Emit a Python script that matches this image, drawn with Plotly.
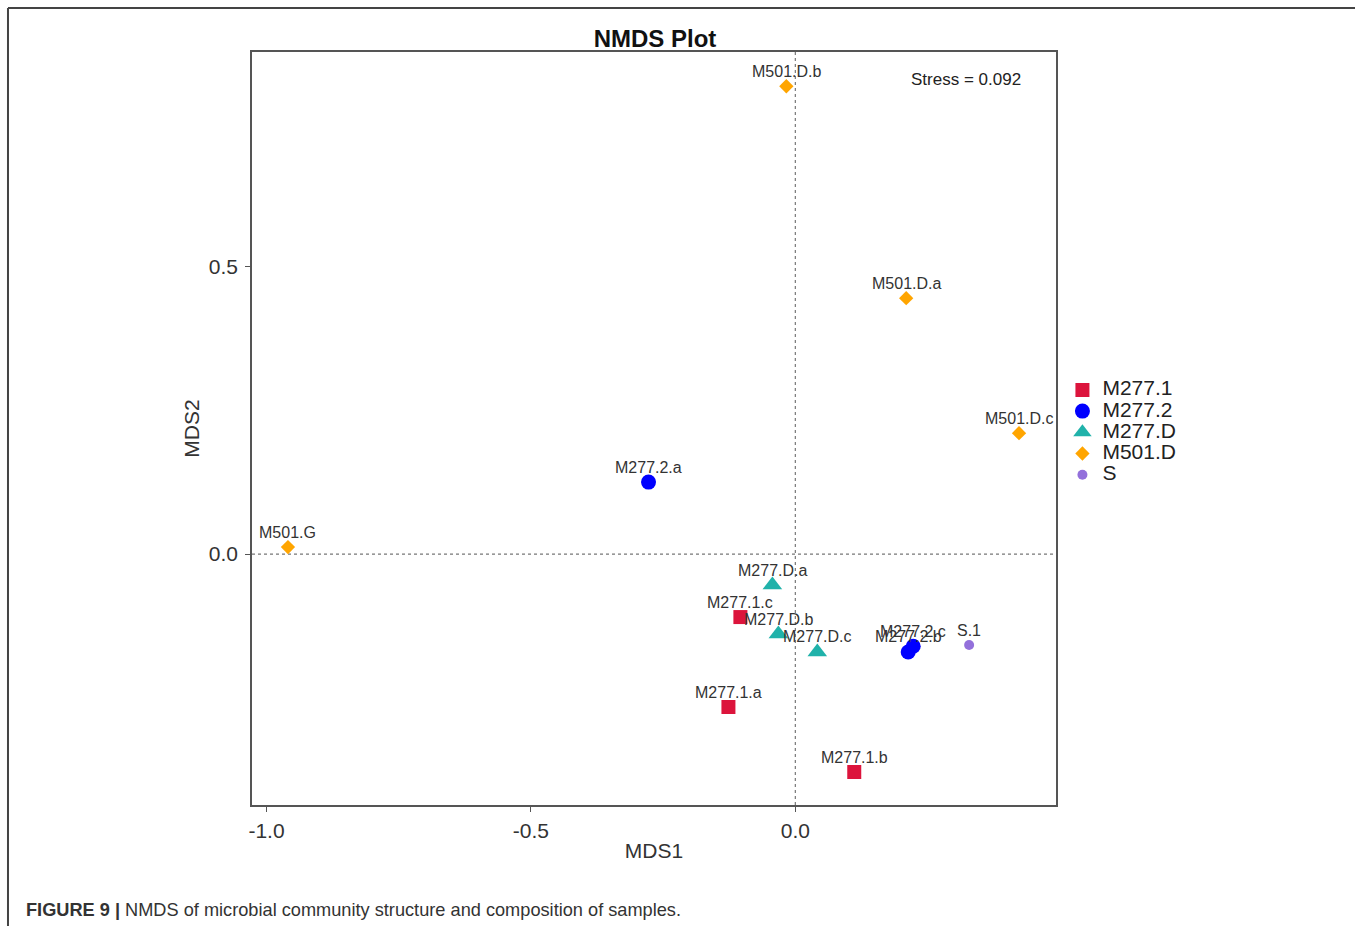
import plotly.graph_objects as go

# ---- data ----
groups = ["M277.1", "M277.2", "M277.D", "M501.D", "S"]
samples = {
    "M277.1": ["M277.1.a", "M277.1.b", "M277.1.c"],
    "M277.2": ["M277.2.a", "M277.2.b", "M277.2.c"],
    "M277.D": ["M277.D.a", "M277.D.b", "M277.D.c"],
    "M501.D": ["M501.D.a", "M501.D.b", "M501.D.c", "M501.G"],
    "S": ["S.1"],
}
mds1 = {
    "M277.1": [-0.1265, 0.1114, -0.1039],
    "M277.2": [-0.2776, 0.2134, 0.2229],
    "M277.D": [-0.0434, -0.0321, 0.0415],
    "M501.D": [0.2096, -0.017, 0.423, -0.9594],
    "S": [0.3286],
}
mds2 = {
    "M277.1": [-0.2656, -0.3785, -0.1094],
    "M277.2": [0.125, -0.170, -0.160],
    "M277.D": [-0.0538, -0.139, -0.170],
    "M501.D": [0.4444, 0.8125, 0.210, 0.0122],
    "S": [-0.158],
}
stress = 0.092
x_ticks = [-1.0, -0.5, 0.0]
y_ticks = [0.0, 0.5]

# ---- styles ----
colors = {"M277.1": "#DC143C", "M277.2": "#0000FF", "M277.D": "#20B2AA",
          "M501.D": "#FFA500", "S": "#9370DB"}
symbols = {"M277.1": "square", "M277.2": "circle", "M277.D": "triangle-up",
           "M501.D": "diamond", "S": "circle"}
sizes = {"M277.1": 14, "M277.2": 15, "M277.D": 17, "M501.D": 11, "S": 10}

FONT = "Liberation Sans, Arial, sans-serif"
fig = go.Figure()

for g in groups:
    fig.add_trace(go.Scatter(
        x=mds1[g], y=mds2[g], mode="markers",
        name=f'<span style="font-size:21px">{g}</span>',
        marker=dict(color=colors[g], symbol=symbols[g], size=sizes[g], line=dict(width=0)),
    ))

annotations = []
for g in groups:
    for name, xv, yv in zip(samples[g], mds1[g], mds2[g]):
        annotations.append(dict(x=xv, y=yv, xref="x", yref="y", text=name, showarrow=False,
                                yshift=15, font=dict(family=FONT, size=16, color="#333333")))

annotations.append(dict(x=0.888, y=0.963, xref="paper", yref="paper", text=f"Stress = {stress}",
                        showarrow=False, xanchor="center", yanchor="middle",
                        font=dict(family=FONT, size=17, color="#222222")))
annotations.append(dict(x=-0.2836, y=-0.1395, xref="paper", yref="paper",
                        text="<b>FIGURE 9 |</b> NMDS of microbial community structure and composition of samples.",
                        showarrow=False, xanchor="left", yanchor="middle",
                        font=dict(family=FONT, size=18.2, color="#333333")))

shapes = [
    dict(type="line", xref="x", yref="paper", x0=0, x1=0, y0=0, y1=1,
         line=dict(color="#777777", width=1.2, dash="dot"), layer="below"),
    dict(type="line", xref="paper", yref="y", x0=0, x1=1, y0=0, y1=0,
         line=dict(color="#777777", width=1.2, dash="dot"), layer="below"),
    # outer figure frame (top and left)
    dict(type="line", xref="paper", yref="paper", x0=-0.3035, x1=1.38, y0=1.0584, y1=1.0584,
         line=dict(color="#444444", width=2)),
    dict(type="line", xref="paper", yref="paper", x0=-0.3035, x1=-0.3035, y0=-0.17, y1=1.0584,
         line=dict(color="#444444", width=2)),
]

axis_common = dict(showgrid=False, zeroline=False, showline=True, mirror=True,
                   linecolor="#555555", linewidth=1.5, ticks="outside", ticklen=5,
                   tickcolor="#555555",
                   tickfont=dict(family=FONT, size=21, color="#333333"))

fig.update_layout(
    width=1355, height=926,
    margin=dict(l=252, r=299, t=52, b=121),
    paper_bgcolor="white", plot_bgcolor="white",
    title=dict(text="<b>NMDS Plot</b>", x=(655 / 1355), xref="container", xanchor="center",
               y=1 - 39 / 926, yref="container", yanchor="middle",
               font=dict(family=FONT, size=24, color="#111111")),
    xaxis=dict(range=[-1.0274, 0.4929], tickvals=x_ticks, ticktext=[f"{v:.1f}" for v in x_ticks],
               ticklabelstandoff=1,
               title=dict(text="MDS1", font=dict(family=FONT, size=21, color="#333333"), standoff=2),
               **axis_common),
    yaxis=dict(range=[-0.4358, 0.872], tickvals=y_ticks, ticktext=[f"{v:.1f}" for v in y_ticks],
               ticklabelstandoff=3,
               title=dict(text="MDS2", font=dict(family=FONT, size=21, color="#333333"), standoff=3),
               **axis_common),
    legend=dict(x=1.008, y=0.572, xanchor="left", yanchor="top",
                font=dict(family=FONT, size=14, color="#222222"),
                itemwidth=30, tracegroupgap=0, bgcolor="rgba(0,0,0,0)"),
    annotations=annotations,
    shapes=shapes,
)

fig.write_html("out.html")
